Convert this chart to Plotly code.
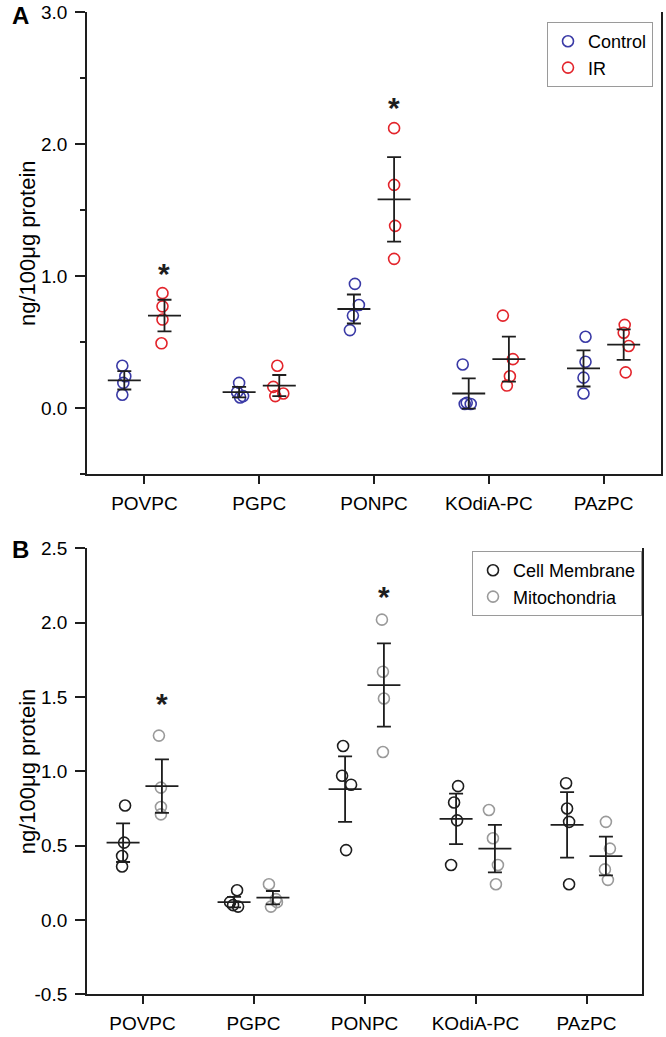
import plotly.graph_objects as go

categories = ["POVPC", "PGPC", "PONPC", "KOdiA-PC", "PAzPC"]
a_yticks = [0.0, 1.0, 2.0, 3.0]
a_ytext = ["0.0", "1.0", "2.0", "3.0"]
b_yticks = [-0.5, 0.0, 0.5, 1.0, 1.5, 2.0, 2.5]
b_ytext = ["-0.5", "0.0", "0.5", "1.0", "1.5", "2.0", "2.5"]

# Panel A: Control vs IR (ng/100ug protein)
a_control_pts = [
    [0.32, 0.24, 0.19, 0.10],
    [0.19, 0.12, 0.09, 0.08],
    [0.94, 0.78, 0.70, 0.59],
    [0.33, 0.04, 0.03, 0.03],
    [0.54, 0.35, 0.23, 0.11],
]
a_control_mean = [0.21, 0.12, 0.75, 0.11, 0.30]
a_control_sem = [0.07, 0.04, 0.11, 0.115, 0.137]

a_ir_pts = [
    [0.87, 0.77, 0.67, 0.49],
    [0.32, 0.16, 0.11, 0.09],
    [2.12, 1.69, 1.38, 1.13],
    [0.70, 0.37, 0.24, 0.17],
    [0.63, 0.57, 0.47, 0.27],
]
a_ir_mean = [0.70, 0.17, 1.58, 0.37, 0.48]
a_ir_sem = [0.12, 0.08, 0.32, 0.17, 0.115]
a_stars = {0: 1.05, 2: 2.31}

# Panel B: Cell Membrane vs Mitochondria
b_cm_pts = [
    [0.77, 0.52, 0.43, 0.36],
    [0.20, 0.12, 0.10, 0.09],
    [1.17, 0.97, 0.91, 0.47],
    [0.90, 0.79, 0.67, 0.37],
    [0.92, 0.75, 0.66, 0.24],
]
b_cm_mean = [0.52, 0.12, 0.88, 0.68, 0.64]
b_cm_sem = [0.13, 0.035, 0.22, 0.17, 0.22]

b_mito_pts = [
    [1.24, 0.89, 0.76, 0.71],
    [0.24, 0.14, 0.12, 0.09],
    [2.02, 1.67, 1.49, 1.13],
    [0.74, 0.55, 0.37, 0.24],
    [0.66, 0.48, 0.34, 0.27],
]
b_mito_mean = [0.90, 0.15, 1.58, 0.48, 0.43]
b_mito_sem = [0.18, 0.045, 0.28, 0.16, 0.13]
b_stars = {0: 1.48, 2: 2.20}

# horizontal scatter of the dots, in pixels (layout only)
jit_a_ctrl = [[-2, 1, -1, -2], [0, -2, 4, 1], [1, 5, -1, -4], [-6, -2, 2, -4], [2, 2, 0, 0]]
jit_a_ir = [[-2, -2, -2, -3], [-2, -6, 4, -4], [0, 0, 1, 0], [-6, 4, 1, -2], [1, 0, 5, 2]]
jit_b_cm = [[2, 1, -1, -1], [3, -4, -1, 4], [-2, -3, 6, 1], [2, -2, 1, -5], [-1, 0, 2, 2]]
jit_b_mito = [[-3, -1, -1, -1], [-4, 3, 4, -2], [-2, -1, 0, -1], [-6, -2, 3, 1], [0, 4, -1, 2]]

W, H = 666, 1037
FONT = "Arial, Liberation Sans, sans-serif"
INK = "#1e1e1e"
LW = 1.8
OFF = 0.175       # group offset from category tick
MEAN_W = 33       # mean line length, px


def py(p):
    return 1 - p / H


fig = go.Figure()


def add_group(pts, jit, mean, sem, side, color, name, xa, ya, px_per_unit, legend):
    xs, ys = [], []
    for i, vals in enumerate(pts):
        for v, j in zip(vals, jit[i]):
            xs.append(i + side * OFF + j / px_per_unit)
            ys.append(v)
    fig.add_trace(go.Scatter(
        x=xs, y=ys, mode="markers", name=name, xaxis=xa, yaxis=ya, legend=legend,
        marker=dict(symbol="circle-open", size=11, color=color, line=dict(width=1.6, color=color)),
    ))
    fig.add_trace(go.Scatter(
        x=[i + side * OFF for i in range(len(mean))], y=mean, mode="markers",
        xaxis=xa, yaxis=ya, showlegend=False,
        marker=dict(symbol="line-ew-open", size=MEAN_W / 1.4, color=INK, line=dict(width=LW, color=INK)),
        error_y=dict(type="data", array=sem, width=7, thickness=LW, color=INK),
    ))


ppu_a = (661 - 87) / 5.0
ppu_b = (642 - 87) / 5.0
add_group(a_control_pts, jit_a_ctrl, a_control_mean, a_control_sem, -1, "#3a3aa6", "Control", "x", "y", ppu_a, "legend")
add_group(a_ir_pts, jit_a_ir, a_ir_mean, a_ir_sem, 1, "#e3242b", "IR", "x", "y", ppu_a, "legend")
add_group(b_cm_pts, jit_b_cm, b_cm_mean, b_cm_sem, -1, "#1e1e1e", "Cell Membrane", "x2", "y2", ppu_b, "legend2")
add_group(b_mito_pts, jit_b_mito, b_mito_mean, b_mito_sem, 1, "#9a9a9a", "Mitochondria", "x2", "y2", ppu_b, "legend2")

xaxis_common = dict(
    range=[-0.5, 4.5], tickvals=list(range(len(categories))), ticktext=categories,
    ticks="outside", ticklen=8, tickwidth=LW, tickcolor=INK, automargin=False,
    showline=True, linewidth=LW, linecolor=INK, showgrid=False, zeroline=False,
    tickfont=dict(size=19, color="black"), ticklabelstandoff=3, fixedrange=True,
)
yaxis_common = dict(
    ticks="outside", ticklen=10, tickwidth=LW, tickcolor=INK, automargin=False,
    showline=True, mirror=True, linewidth=LW, linecolor=INK, showgrid=False, zeroline=False,
    tickfont=dict(size=19, color="black"), ticklabelstandoff=4, fixedrange=True,
)

fig.update_layout(
    template="none",
    width=W, height=H, margin=dict(l=0, r=0, t=0, b=0, autoexpand=False),
    paper_bgcolor="white", plot_bgcolor="white",
    font=dict(family=FONT, color="black", size=19),
    xaxis=dict(domain=[87 / W, 661 / W], anchor="y", **xaxis_common),
    yaxis=dict(domain=[py(474), py(12)], anchor="x", range=[-0.5, 3.0],
               tickvals=a_yticks, ticktext=a_ytext,
               minor=dict(tickvals=[-0.5, 0.5, 1.5, 2.5], ticks="outside", ticklen=5,
                          tickwidth=LW, tickcolor=INK),
               **yaxis_common),
    xaxis2=dict(domain=[87 / W, 642 / W], anchor="y2", **xaxis_common),
    yaxis2=dict(domain=[py(994.3), py(548.3)], anchor="x2", range=[-0.5, 2.5],
                tickvals=b_yticks, ticktext=b_ytext, **yaxis_common),
    legend=dict(x=547 / W, y=py(22), xanchor="left", yanchor="top", bgcolor="white",
                bordercolor="#9a9a9a", borderwidth=1, font=dict(size=18), itemwidth=30,
                tracegroupgap=0),
    legend2=dict(x=472 / W, y=py(551), xanchor="left", yanchor="top", bgcolor="white",
                 bordercolor="#9a9a9a", borderwidth=1, font=dict(size=18), itemwidth=30,
                 tracegroupgap=0),
)

ann = []
for lab, yc in [("A", 16), ("B", 549)]:
    ann.append(dict(text="<b>%s</b>" % lab, x=20 / W, y=py(yc), xref="paper", yref="paper",
                    showarrow=False, xanchor="center", yanchor="middle", font=dict(size=24)))
for yc0, yc1 in [(12, 474), (548.3, 994.3)]:
    ann.append(dict(text="ng/100μg protein", x=27 / W, y=py((yc0 + yc1) / 2), xref="paper", yref="paper",
                    showarrow=False, textangle=-90, xanchor="center", yanchor="middle", font=dict(size=22)))
for stars, xr, yr in [(a_stars, "x", "y"), (b_stars, "x2", "y2")]:
    for i, yv in stars.items():
        ann.append(dict(text="<b>*</b>", x=i + OFF, y=yv, xref=xr, yref=yr, showarrow=False,
                        xanchor="center", yanchor="middle", yshift=-4, font=dict(size=30, color=INK)))
fig.update_layout(annotations=ann)

fig.write_html("out.html", config={"displayModeBar": False},
               post_script="document.body.style.margin = '0';")
